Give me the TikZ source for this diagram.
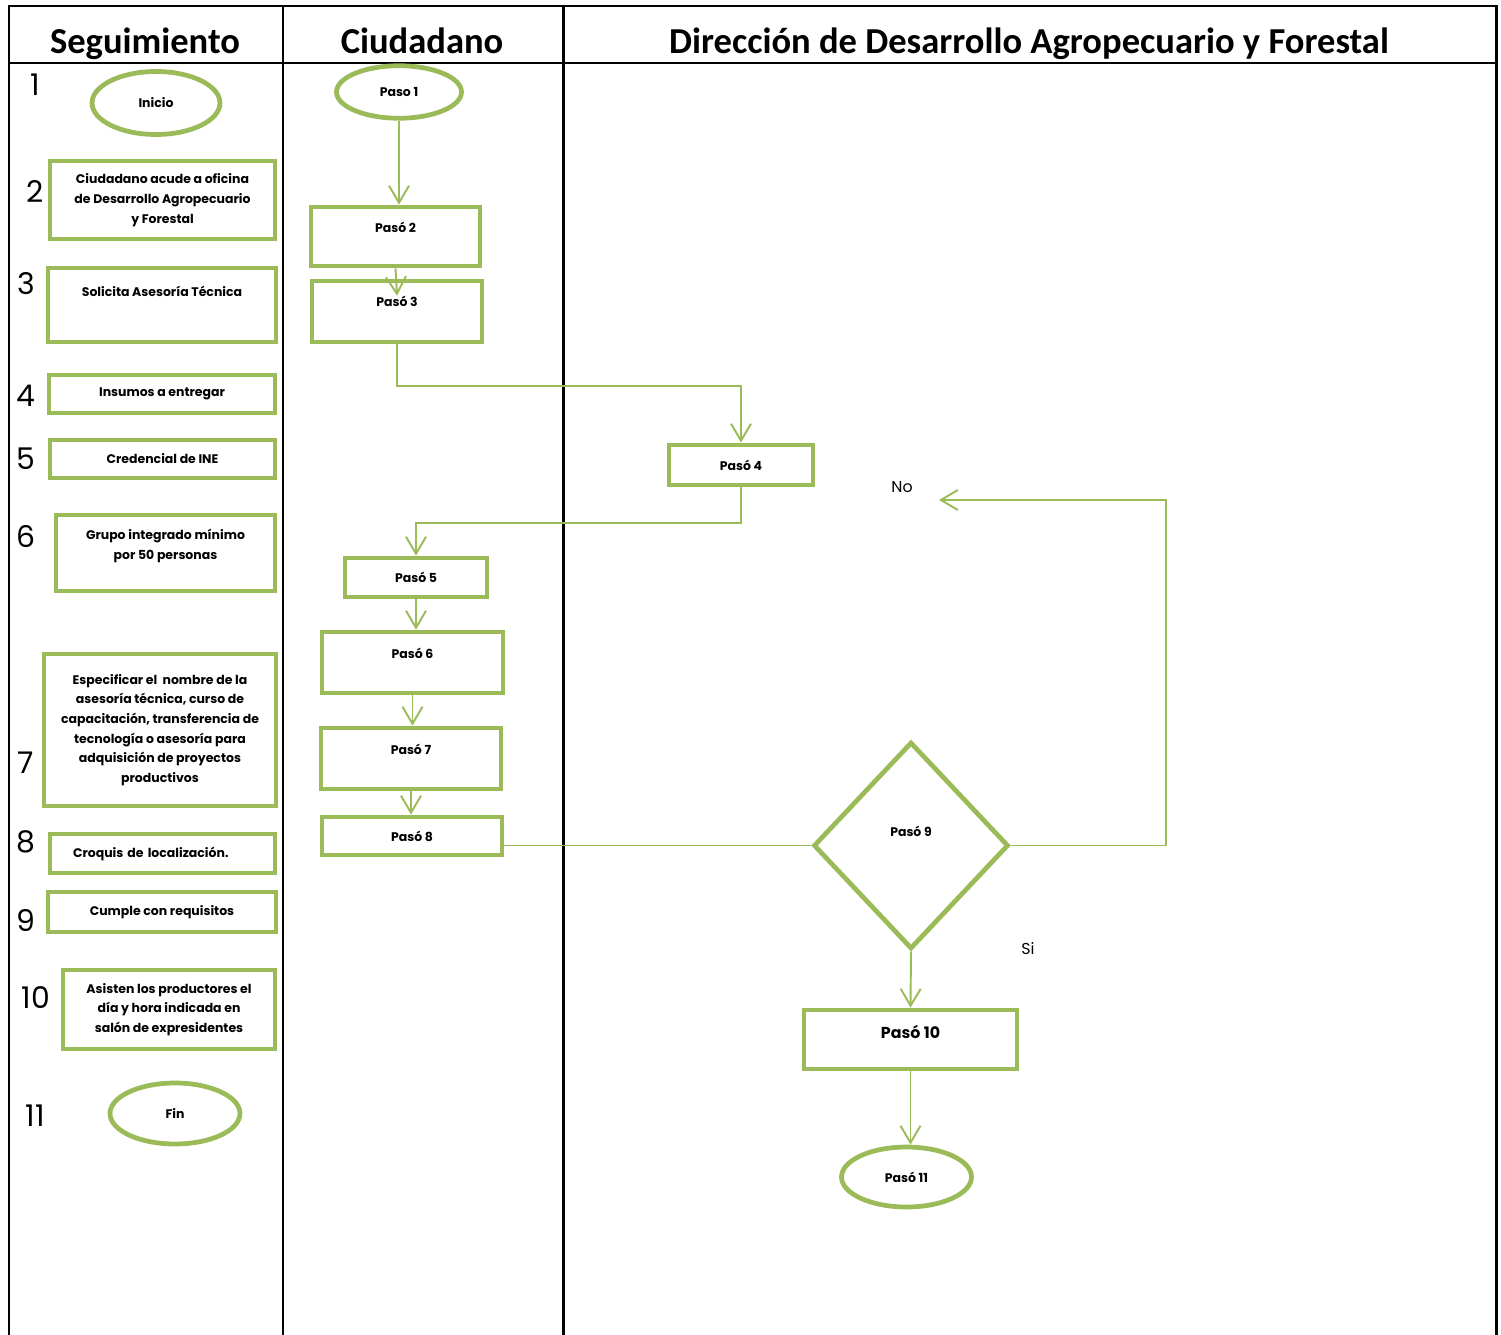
\documentclass[tikz,border=0pt]{standalone}
\usepackage{fontspec}
\setmainfont{Poppins}
\newfontfamily\headfont{Carlito}
\usepackage{xcolor}
\usetikzlibrary{arrows.meta, positioning, shapes.geometric}

\definecolor{oliva}{HTML}{9BBB59}

\begin{document}
\begin{tikzpicture}[
  x=0.02cm, y=-0.02cm,
  >={Straight Barb[length=0.34cm, width=0.4cm]},
  lane/.style={draw=black, line width=1.7pt},
  head/.style={font=\headfont\bfseries\fontsize{20.8}{24}\selectfont, anchor=base},
  num/.style={font=\fontsize{17}{20}\selectfont, inner sep=0pt},
  box/.style={draw=oliva, line width=2.7pt, align=center, inner sep=2pt,
    font=\bfseries\fontsize{7.1}{11.2}\selectfont},
  oval/.style={box, ellipse},
  decision/.style={box, diamond},
  arr/.style={->, draw=oliva, line width=1.1pt},
  link/.style={draw=oliva, line width=1.1pt},
  note/.style={font=\fontsize{9}{11}\selectfont, inner sep=1pt}
]
\useasboundingbox (0,0) rectangle (1501,1335);

% table
\draw[lane] (9,1335) |- (1496,6) -- (1496,1335);
\draw[lane] (9,63) -- (1496,63);
\draw[lane] (283,6) -- (283,1335);
\draw[lane] (563,6) -- (563,1335);

\node[head] (hseg) at (145,54) {Seguimiento};
\node[head] (hciu) at (422,54) {Ciudadano};
\node[head] (hdir) at (1029,54) {Dirección de Desarrollo Agropecuario y Forestal};

% Seguimiento
\node[num] (n1) at (35,85) {1};
\node[num] (n2) at (35,192) {2};
\node[num] (n3) at (26,284) {3};
\node[num] (n4) at (26,396) {4};
\node[num] (n5) at (26,459) {5};
\node[num] (n6) at (26,537) {6};
\node[num] (n7) at (26,763) {7};
\node[num] (n8) at (26,842) {8};
\node[num] (n9) at (26,920) {9};
\node[num] (n10) at (36,998) {10};
\node[num] (n11) at (35,1116) {11};

\node[oval, minimum width=2.56cm, minimum height=1.26cm] (inicio) at (156,103) {Inicio};
\node[box, minimum width=4.5cm, minimum height=1.56cm] (s2) at (162.5,200)
  {Ciudadano acude a oficina\\de Desarrollo Agropecuario\\y Forestal};
\node[box, minimum width=4.56cm, minimum height=1.48cm, text depth=0.56cm] (s3) at (162,305)
  {Solicita Asesoría Técnica};
\node[box, minimum width=4.52cm, minimum height=0.76cm] (s4) at (162,394) {Insumos a entregar};
\node[box, minimum width=4.5cm, minimum height=0.76cm] (s5) at (162.5,459) {Credencial de INE};
\node[box, minimum width=4.38cm, minimum height=1.52cm, text depth=0.34cm] (s6) at (165.5,553)
  {Grupo integrado mínimo\\por 50 personas};
\node[box, minimum width=4.64cm, minimum height=3.04cm] (s7) at (160,730)
  {Especificar el\ \ nombre de la\\asesoría técnica, curso de\\capacitación, transferencia de\\tecnología o asesoría para\\adquisición de proyectos\\productivos};
\node[box, minimum width=4.5cm, minimum height=0.78cm, text width=3.58cm, inner xsep=0.46cm, align=left] (s8) at (162.5,853.5)
  {Croquis de localización.};
\node[box, minimum width=4.56cm, minimum height=0.8cm] (s9) at (162,912) {Cumple con requisitos};
\node[box, minimum width=4.24cm, minimum height=1.58cm] (s10) at (169,1009.5)
  {Asisten los productores el\\día y hora indicada en\\salón de expresidentes};
\node[oval, minimum width=2.6cm, minimum height=1.22cm] (fin) at (175,1113.5) {Fin};

% Ciudadano
\node[oval, minimum width=2.5cm, minimum height=1.05cm] (p1) at (399,92) {Paso 1};
\node[box, minimum width=3.38cm, minimum height=1.18cm, text depth=0.38cm] (p2) at (395.5,236.5) {Pasó 2};
\node[box, minimum width=3.4cm, minimum height=1.22cm, text depth=0.42cm] (p3) at (397,311.5) {Pasó 3};
\node[box, minimum width=2.84cm, minimum height=0.78cm] (p5) at (416,577.5) {Pasó 5};
\node[box, minimum width=3.62cm, minimum height=1.22cm, text depth=0.38cm] (p6) at (412.5,662.5) {Pasó 6};
\node[box, minimum width=3.6cm, minimum height=1.22cm, text depth=0.38cm] (p7) at (411,758.5) {Pasó 7};
\node[box, minimum width=3.6cm, minimum height=0.76cm] (p8) at (412,836) {Pasó 8};

% Direccion
\node[box, minimum width=2.88cm, minimum height=0.8cm] (p4) at (741,465) {Pasó 4};
\node[decision, minimum width=3.9cm, minimum height=4.14cm, text depth=0.56cm] (p9) at (911,845.5) {Pasó 9};
\node[box, minimum width=4.26cm, minimum height=1.18cm, text depth=0.3cm,
  font=\bfseries\fontsize{9}{11}\selectfont] (p10) at (910.5,1039.5) {Pasó 10};
\node[oval, minimum width=2.6cm, minimum height=1.2cm] (p11) at (906.5,1177) {Pasó 11};

\node[note] (no) at (902,487) {No};
\node[note] (si) at (1028,949) {Si};
\coordinate (noend) at (939,500);

\draw[arr] (p1.south) -- (p1.south |- p2.north);
\draw[arr] (p2.south) -- ([yshift=-0.34cm]p3.north);
\draw[arr] (p3.south) -- ++(0,42) -| (p4.north);
\draw[arr] (p4.south) -- ++(0,36) -| (p5.north);
\draw[arr] (p5.south) -- (p5.south |- p6.north);
\draw[arr] (p6.south) -- (p6.south |- p7.north);
\draw[arr] (p7.south) -- (p7.south |- p8.north);
\draw[link] (p8.east |- p9.west) -- (p9.west);
\draw[arr] (p9.east) -- ++(155,0) |- (noend);
\draw[arr] (p9.south) -- (p10.north);
\draw[arr] (p10.south) -- (p10.south |- p11.north);
\end{tikzpicture}
\end{document}
